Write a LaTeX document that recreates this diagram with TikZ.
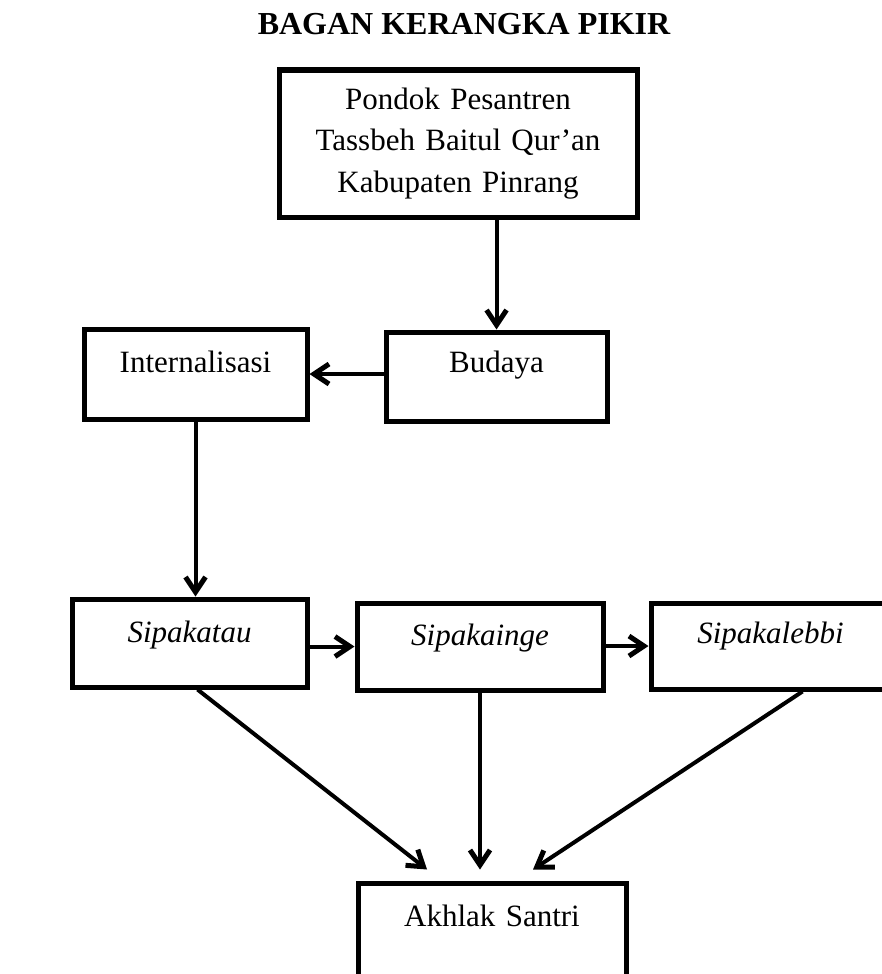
\documentclass[tikz,border=0pt]{standalone}
\usepackage{fontspec}
\setmainfont{Liberation Serif}
\usetikzlibrary{arrows.meta}

\begin{document}
\begin{tikzpicture}[x=1pt, y=-1pt, >={Straight Barb[length=15pt,width=20pt,line width=5pt]}, block/.style={draw, line width=5pt, inner sep=0pt, align=center, font=\fontsize{31}{41.5}\selectfont}, link/.style={->, line width=4pt}]
    \useasboundingbox (0,0) rectangle (882,974);
    \node[anchor=base, font=\fontsize{32}{38}\selectfont\bfseries] (title) at (464,35) {BAGAN KERANGKA PIKIR};
    \node[block, text width=358pt, minimum height=147pt] (pondok) at (458,143.5) {Pondok Pesantren\\Tassbeh Baitul Qur’an\\Kabupaten Pinrang};
    \node[block, anchor=base, text width=221pt, text height=40pt, text depth=49pt] (budaya) at (496.5,372) {Budaya};
    \node[block, anchor=base, text width=223pt, text height=43pt, text depth=47pt] (intern) at (195.5,372) {Internalisasi};
    \node[block, anchor=base, text width=235pt, text height=43pt, text depth=45pt] (katau) at (189.5,642) {\itshape Sipakatau};
    \node[block, anchor=base, text width=246pt, text height=42pt, text depth=45pt] (kainge) at (480,645) {\itshape Sipakainge};
    \node[block, anchor=base, text width=239pt, text height=40pt, text depth=46pt] (lebbi) at (770.5,643) {\itshape Sipakalebbi};
    \node[block, anchor=base, text width=268pt, text height=43pt, text depth=74pt] (akhlak) at (492,926) {Akhlak Santri};

    \draw[link] (pondok.south -| budaya.north) -- (budaya.north);
    \draw[link] (budaya.west |- intern.east) -- (intern.east);
    \draw[link] (intern.south) -- (intern.south |- katau.north);
    \draw[link] (katau.east |- kainge.west) -- (kainge.west);
    \draw[link] (kainge.east |- lebbi.west) -- (lebbi.west);
    \draw[link] ([xshift=8pt]katau.south) -- ([shift={(-65pt,11pt)}]akhlak.north);
    \draw[link] (kainge.south) -- ([yshift=11pt]akhlak.north -| kainge.south);
    \draw[link] ([xshift=32pt]lebbi.south) -- ([shift={(41pt,11pt)}]akhlak.north);
\end{tikzpicture}
\end{document}
